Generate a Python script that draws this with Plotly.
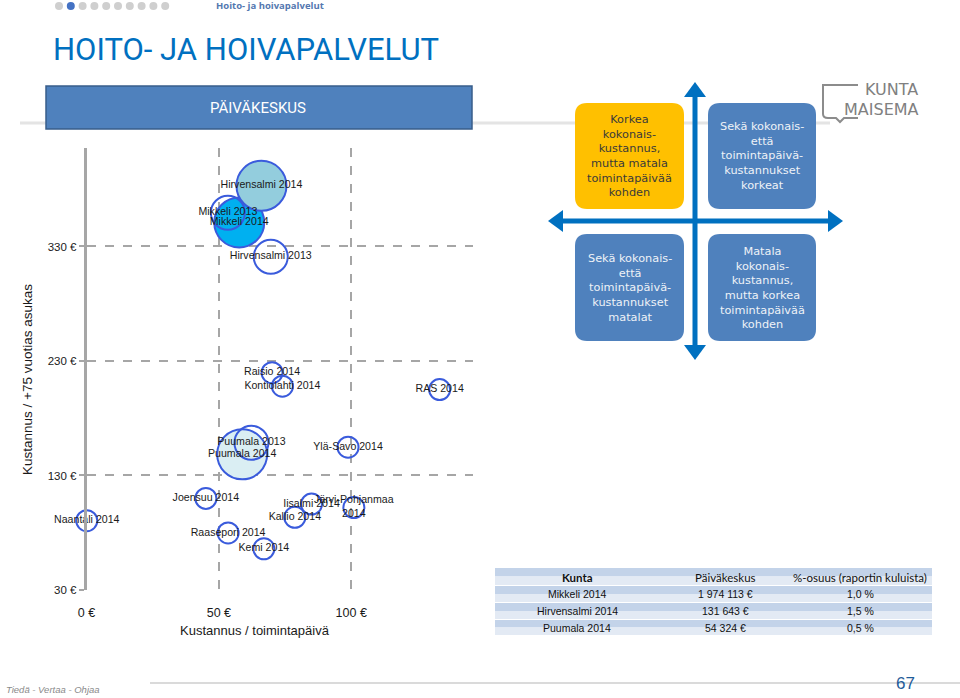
import plotly.graph_objects as go

W, H = 960, 698

# ---------------- data ----------------
kunnat_korostus = ["Mikkeli 2014", "Puumala 2014", "Hirvensalmi 2014"]
pv_korostus = [57.7, 58.8, 66.1]          # Kustannus / toimintapäivä
as_korostus = [351.0, 148.5, 383.0]       # Kustannus / +75 vuotias asukas

kunnat_2013 = ["Mikkeli 2013", "Hirvensalmi 2013", "Puumala 2013"]
pv_2013 = [53.4, 69.6, 62.3]
as_2013 = [359.5, 321.0, 158.6]

kunnat_muut = ["Raisio 2014", "Kontiolahti 2014", "RAS 2014", "Ylä-Savo 2014",
               "Joensuu 2014", "Naantali 2014", "Raasepori 2014", "Kemi 2014",
               "Kallio 2014", "Iisalmi 2014", "Järvi-Pohjanmaa 2014"]
pv_muut = [70.1, 74.0, 133.4, 98.8, 45.1, 0.1, 53.5, 67.0, 78.7, 85.0, 101.0]
as_muut = [219.8, 208.0, 205.0, 154.7, 110.0, 90.5, 79.8, 66.0, 93.5, 105.0, 102.0]

x_tick_arvot = [0, 50, 100]
y_tick_arvot = [30, 130, 230, 330]

taulukko_otsikot = ["Kunta", "Päiväkeskus", "%-osuus (raportin kuluista)"]
taulukko_kunnat = ["Mikkeli 2014", "Hirvensalmi 2014", "Puumala 2014"]
taulukko_paivakeskus = ["1 974 113 €", "131 643 €", "54 324 €"]
taulukko_osuus = ["1,0 %", "1,5 %", "0,5 %"]

nelikentta = [
    "Korkea<br>kokonais-<br>kustannus,<br>mutta matala<br>toimintapäivää<br>kohden",
    "Sekä kokonais-<br>että<br>toimintapäivä-<br>kustannukset<br>korkeat",
    "Sekä kokonais-<br>että<br>toimintapäivä-<br>kustannukset<br>matalat",
    "Matala<br>kokonais-<br>kustannus,<br>mutta korkea<br>toimintapäivää<br>kohden",
]

# ---------------- styles ----------------
SANS = "Liberation Sans"
korostus_varit = ["#00B0F0", "#DAEEF3", "#93CDDD"]
REUNA = "#3A5BDC"


def X(px):
    return px / W


def Y(py):
    return 1 - py / H


def nimi_label(n):
    if len(n) > 18:
        i = n.rfind(" ")
        return n[:i] + "<br>" + n[i + 1:]
    return n


fig = go.Figure()

fig.add_trace(go.Scatter(
    x=pv_korostus, y=as_korostus, mode="markers", cliponaxis=False, hoverinfo="skip",
    marker=dict(size=50, color=korostus_varit, line=dict(color=REUNA, width=2), opacity=1),
))
fig.add_trace(go.Scatter(
    x=pv_2013, y=as_2013, mode="markers", cliponaxis=False, hoverinfo="skip",
    marker=dict(size=34, color="rgba(0,0,0,0)", line=dict(color=REUNA, width=2)),
))
fig.add_trace(go.Scatter(
    x=pv_muut, y=as_muut, mode="markers", cliponaxis=False, hoverinfo="skip",
    marker=dict(size=21, color="rgba(0,0,0,0)", line=dict(color=REUNA, width=2)),
))
kaikki_nimet = kunnat_korostus + kunnat_2013 + kunnat_muut
fig.add_trace(go.Scatter(
    x=pv_korostus + pv_2013 + pv_muut, y=as_korostus + as_2013 + as_muut,
    mode="text", cliponaxis=False, hoverinfo="skip",
    text=[nimi_label(n) for n in kaikki_nimet], textposition="middle center",
    textfont=dict(family=SANS, size=10.6, color="#1A1A1A"),
))

shapes = []
annotations = []


def txt(text, px, py, size, color, family, xanchor="center", yanchor="middle", **kw):
    d = dict(text=text, x=X(px), y=Y(py), xref="paper", yref="paper", showarrow=False,
             xanchor=xanchor, yanchor=yanchor, font=dict(family=family, size=size, color=color))
    d.update(kw)
    annotations.append(d)


# top navigation dots
for i in range(10):
    cx = 59 + i * 11.8
    shapes.append(dict(type="circle", xref="paper", yref="paper",
                       x0=X(cx - 4), x1=X(cx + 4), y0=Y(10), y1=Y(2),
                       fillcolor="#4472C4" if i == 1 else "#CFCFCF", line=dict(width=0)))
txt("<b>Hoito- ja hoivapalvelut</b>", 270, 6, 9.5, "#5478B0", "Open Sans")
txt("HOITO- JA HOIVAPALVELUT", 246, 50, 31, "#0070C0", "Roboto")

# faint slide line
shapes.append(dict(type="line", xref="paper", yref="paper", x0=X(20), x1=X(830), y0=Y(123), y1=Y(123),
                   line=dict(color="#E4E4E4", width=3), layer="below"))

# header box
shapes.append(dict(type="rect", xref="paper", yref="paper", x0=X(46), x1=X(472), y0=Y(129), y1=Y(86),
                   fillcolor="#4F81BD", line=dict(color="#385D8A", width=1.5)))
txt("PÄIVÄKESKUS", 258, 108, 15, "white", "Roboto")


def rrect(x0, y0, x1, y1, r):
    return (f"M {X(x0 + r)},{Y(y0)} L {X(x1 - r)},{Y(y0)} Q {X(x1)},{Y(y0)} {X(x1)},{Y(y0 + r)} "
            f"L {X(x1)},{Y(y1 - r)} Q {X(x1)},{Y(y1)} {X(x1 - r)},{Y(y1)} "
            f"L {X(x0 + r)},{Y(y1)} Q {X(x0)},{Y(y1)} {X(x0)},{Y(y1 - r)} "
            f"L {X(x0)},{Y(y0 + r)} Q {X(x0)},{Y(y0)} {X(x0 + r)},{Y(y0)} Z")


def poly(pts):
    return "M " + " L ".join(f"{X(a)},{Y(b)}" for a, b in pts) + " Z"


# quadrant arrows
SININEN = "#0070C0"
shapes.append(dict(type="line", xref="paper", yref="paper", x0=X(556), x1=X(832), y0=Y(221), y1=Y(221),
                   line=dict(color=SININEN, width=5)))
shapes.append(dict(type="line", xref="paper", yref="paper", x0=X(695), x1=X(695), y0=Y(92), y1=Y(350),
                   line=dict(color=SININEN, width=5)))
for tri in ([(828, 210), (843, 221), (828, 232)], [(563, 210), (548, 221), (563, 232)],
            [(684, 97), (695, 82), (706, 97)], [(684, 345), (695, 360), (706, 345)]):
    shapes.append(dict(type="path", xref="paper", yref="paper", path=poly(tri),
                       fillcolor=SININEN, line=dict(width=0)))

boksit = [(575, 103, 684, 209), (708, 103, 816, 209), (575, 234, 684, 341), (708, 234, 816, 341)]
for k, (bx0, by0, bx1, by1) in enumerate(boksit):
    keltainen = k == 0
    shapes.append(dict(type="path", xref="paper", yref="paper", path=rrect(bx0, by0, bx1, by1, 12),
                       fillcolor="#FFC000" if keltainen else "#4F81BD", line=dict(width=0)))
    txt(nelikentta[k], (bx0 + bx1) / 2, (by0 + by1) / 2, 11.3,
        "#3A3A3A" if keltainen else "#EEF2F7", "DejaVu Sans", align="center")

# logo
shapes.append(dict(type="path", xref="paper", yref="paper",
                   path=(f"M {X(858)},{Y(85)} L {X(823)},{Y(85)} L {X(823)},{Y(114)} "
                         f"Q {X(823)},{Y(118)} {X(828)},{Y(118)} L {X(836)},{Y(118)} L {X(840)},{Y(122)} "
                         f"L {X(844)},{Y(118)} L {X(858)},{Y(118)}"),
                   line=dict(color="#8C8C8C", width=2)))
txt("KUNTA", 891, 90, 16, "#808080", "DejaVu Sans")
txt("MAISEMA", 881, 109, 16, "#808080", "DejaVu Sans")

# axis titles
txt("Kustannus / toimintapäivä", 255, 630, 13, "#1A1A1A", SANS)
txt("Kustannus / +75 vuotias asukas", 27, 380, 13.5, "#1A1A1A", SANS, textangle=-90)

# table
tx0, tx1 = 495, 932
rivit = [(568, 585), (586, 602), (603, 619), (620, 635)]
for (ry0, ry1) in rivit:
    ym = (ry0 + ry1) / 2
    shapes.append(dict(type="rect", xref="paper", yref="paper", x0=X(tx0), x1=X(tx1), y0=Y(ym), y1=Y(ry0),
                       fillcolor="#C3D3E9", line=dict(width=0)))
    shapes.append(dict(type="rect", xref="paper", yref="paper", x0=X(tx0), x1=X(tx1), y0=Y(ry1), y1=Y(ym),
                       fillcolor="#E3EAF4", line=dict(width=0)))
sarakkeet = [577, 725, 860]
for j, t in enumerate(taulukko_otsikot):
    txt(f"<b>{t}</b>" if j == 0 else t, sarakkeet[j], 577, 11.5, "#111111", "Lato")
for i in range(len(taulukko_kunnat)):
    ry = (rivit[i + 1][0] + rivit[i + 1][1]) / 2
    for j, col in enumerate([taulukko_kunnat, taulukko_paivakeskus, taulukko_osuus]):
        txt(col[i], sarakkeet[j], ry, 10.5, "#111111", SANS)

# footer
shapes.append(dict(type="line", xref="paper", yref="paper", x0=X(150), x1=X(960), y0=Y(683), y1=Y(683),
                   line=dict(color="#DADADA", width=2)))
txt("<i>Tiedä - Vertaa - Ohjaa</i>", 53, 689, 9.5, "#8A8A8A", SANS)
txt("67", 905, 683, 17, "#1F5C99", SANS)

GRID = "#A6A6A6"
fig.update_layout(
    width=W, height=H, margin=dict(l=0, r=0, t=0, b=0, pad=0, autoexpand=False),
    paper_bgcolor="white", plot_bgcolor="rgba(0,0,0,0)", showlegend=False,
    xaxis=dict(domain=[X(86.5), X(473)], range=[0, 146], tickvals=x_tick_arvot, automargin=False,
               ticktext=[f"{v} €" for v in x_tick_arvot], showgrid=True, gridcolor=GRID,
               griddash="dash", gridwidth=1.5, zeroline=False, showline=True, linecolor="white",
               linewidth=3, ticks="", ticklabelstandoff=9,
               tickfont=dict(family=SANS, size=12.5, color="#1A1A1A")),
    yaxis=dict(domain=[Y(590), Y(148)], range=[30, 416], tickvals=y_tick_arvot, automargin=False,
               ticktext=[f"{v} €" for v in y_tick_arvot], showgrid=True, gridcolor=GRID,
               griddash="dash", gridwidth=1.5, zeroline=False, showline=True, linecolor=GRID,
               linewidth=2.5, ticks="outside", ticklen=5, tickcolor=GRID, tickwidth=1.5,
               tickfont=dict(family=SANS, size=11.5, color="#1A1A1A")),
    shapes=shapes, annotations=annotations,
)

fig.write_html("out.html")
